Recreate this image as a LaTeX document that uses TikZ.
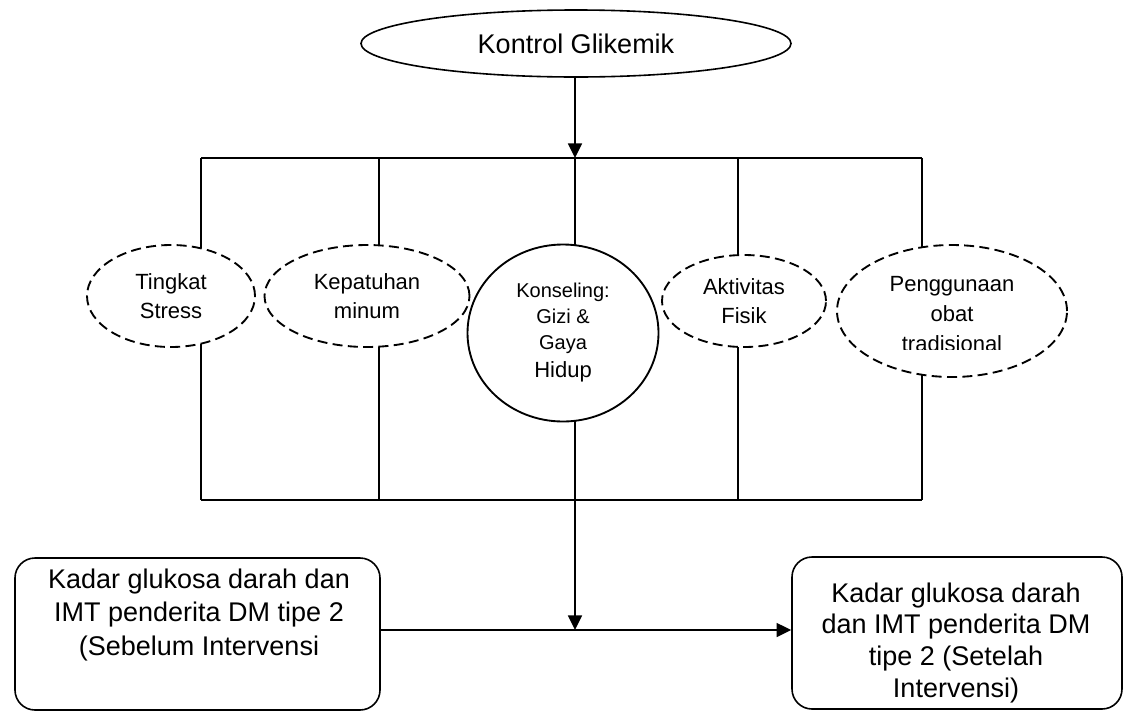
\documentclass[tikz,border=0pt]{standalone}
\usepackage{fontspec}
\setmainfont{Liberation Sans}
\usetikzlibrary{shapes.geometric,arrows.meta}
\begin{document}
\begin{tikzpicture}[x=0.75pt,y=-0.75pt,
  line width=1.2pt,
  arr/.style={-{Triangle[length=11pt,width=10.5pt]}},
  solidell/.style={ellipse,draw,fill=white,inner sep=0pt,align=center},
  dashell/.style={ellipse,draw,fill=white,dash pattern=on 7.5pt off 4pt,line width=1.4pt,inner sep=0pt,align=center,
    font=\fontsize{16.5pt}{21.75pt}\selectfont},
  roundbox/.style={rectangle,draw,rounded corners=15pt,inner sep=0pt},
  bigtext/.style={align=center,inner sep=0pt,font=\fontsize{20.25pt}{25pt}\selectfont}
]
\useasboundingbox (0,0) rectangle (1123,711);
\clip (0,0) rectangle (1123,711);

% frame coordinates
\coordinate (tl) at (201,158);
\coordinate (tr) at (922,158);
\coordinate (bl) at (201,500);
\coordinate (br) at (922,500);
\coordinate (t1) at (379,158);
\coordinate (t2) at (575,158);
\coordinate (t3) at (738,158);
\coordinate (b1) at (379,500);
\coordinate (b2) at (575,500);
\coordinate (b3) at (738,500);
\coordinate (mid) at (575,630);

% frame
\draw (tl) -- (tr);
\draw (bl) -- (br);
\draw (tl) -- (bl);
\draw (tr) -- (br);
\draw (t1) -- (b1);
\draw (t2) -- (b2);
\draw (t3) -- (b3);

% top ellipse
\node[solidell,minimum width=322.5pt,minimum height=50.25pt,font=\fontsize{20.25pt}{25pt}\selectfont]
  (top) at (576,43.5) {Kontrol Glikemik};
\draw[arr] (top.south -| t2) -- (t2);

% factor ellipses
\node[dashell,minimum width=126pt,minimum height=76.5pt] (e1) at (171,296) {Tingkat\\Stress};
\node[dashell,minimum width=153.75pt,minimum height=76.5pt] (e2) at (367,296) {Kepatuhan\\minum};
\node[solidell,minimum width=143.25pt,minimum height=132.75pt,line width=1.4pt,
  font=\fontsize{15pt}{19.5pt}\selectfont] (c) at (563,333)
  {Konseling:\\Gizi \&\\Gaya\\[1.5pt]{\fontsize{16.5pt}{21.75pt}\selectfont Hidup}};
\node[dashell,minimum width=123pt,minimum height=69pt] (e4) at (744,301) {Aktivitas\\Fisik};
\node[dashell,minimum width=172.5pt,minimum height=99pt] (e5) at (952,311) {};
\begin{scope}
  \clip (840,255) rectangle (1065,349);
  \node[align=center,inner sep=0pt,font=\fontsize{16.5pt}{22.5pt}\selectfont] (e5t) at (952,314)
    {Penggunaan\\obat\\tradisional};
\end{scope}

% bottom boxes
\node[roundbox,minimum width=273.75pt,minimum height=114pt] (left) at (197.5,634) {};
\node[bigtext] (lefttext) at (199,614.7)
  {Kadar glukosa darah dan\\IMT penderita DM tipe 2\\(Sebelum Intervensi};
\node[roundbox,minimum width=247.5pt,minimum height=114pt] (right) at (957,633) {};
\node[bigtext,font=\fontsize{20.25pt}{23.75pt}\selectfont] (righttext) at (956,642.7)
  {Kadar glukosa darah\\dan IMT penderita DM\\tipe 2 (Setelah\\Intervensi)};

% arrows
\draw[arr] (left.east |- mid) -- (right.west |- mid);
\draw[arr] (b2) -- (mid);
\end{tikzpicture}
\end{document}
